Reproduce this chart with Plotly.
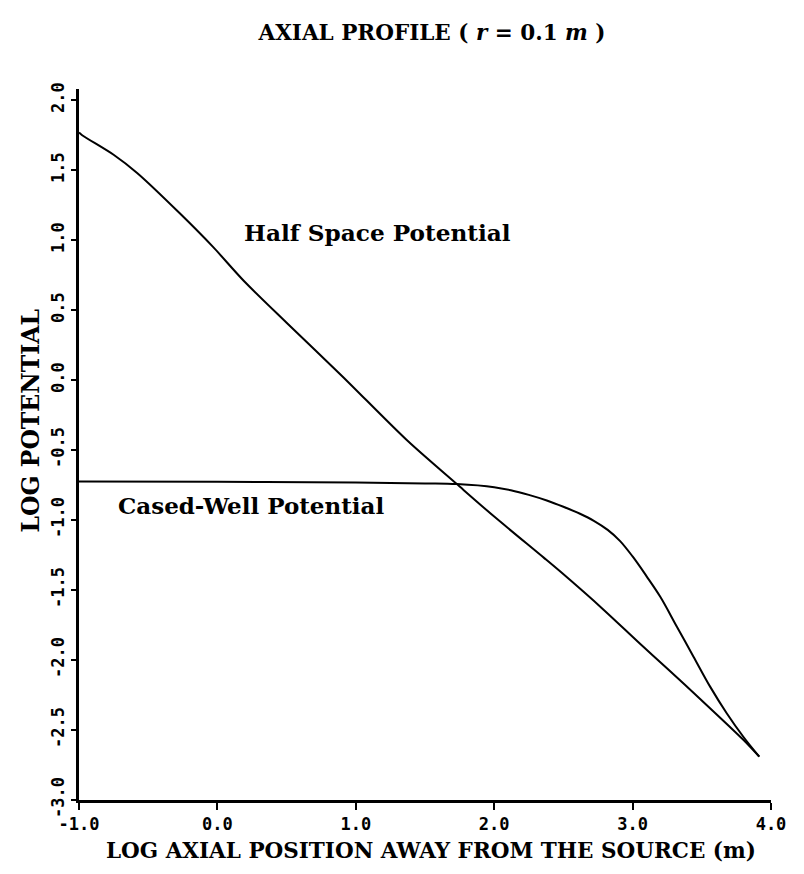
import plotly.graph_objects as go

# Half space potential curve (log axial position vs log potential)
half_x = [-1.0, -0.977, -0.75, -0.58, -0.27, -0.03, 0.19, 0.5, 0.9, 1.37, 1.73, 2.0, 2.36, 2.48, 2.79, 3.05, 3.25, 3.49, 3.80, 3.915]
half_y = [1.77, 1.75, 1.61, 1.48, 1.19, 0.95, 0.71, 0.41, 0.03, -0.43, -0.743, -0.975, -1.27, -1.37, -1.64, -1.88, -2.06, -2.28, -2.57, -2.69]

# Cased-well potential curve
cased_x = [-1.0, 0.0, 1.0, 1.5, 1.73, 2.0, 2.12, 2.25, 2.38, 2.5, 2.62, 2.72, 2.82, 2.91, 3.0, 3.10, 3.20, 3.32, 3.44, 3.56, 3.68, 3.80, 3.915]
cased_y = [-0.725, -0.727, -0.732, -0.738, -0.743, -0.765, -0.787, -0.82, -0.86, -0.905, -0.955, -1.005, -1.07, -1.15, -1.26, -1.40, -1.548, -1.762, -1.976, -2.19, -2.38, -2.548, -2.69]

x_ticks = [-1.0, 0.0, 1.0, 2.0, 3.0, 4.0]
y_ticks = [-3.0, -2.5, -2.0, -1.5, -1.0, -0.5, 0.0, 0.5, 1.0, 1.5, 2.0]

serif = "DejaVu Serif"
tickfont = dict(family="DejaVu Sans Mono", size=17, color="black", weight="bold")

# page body has an 8px margin; figure coordinates = page coordinates - 8
OFF = 8
W, H = 796, 866
L, R, T, B = 78.5 - OFF, 796 - (771 - OFF), 89 - OFF, 866 - (800 - OFF)
pw, ph = W - L - R, H - T - B

fig = go.Figure()
fig.add_trace(go.Scatter(x=half_x, y=half_y, mode="lines",
                         line=dict(color="black", width=2, shape="spline", smoothing=0.8),
                         showlegend=False, hoverinfo="skip"))
fig.add_trace(go.Scatter(x=cased_x, y=cased_y, mode="lines",
                         line=dict(color="black", width=2, shape="spline", smoothing=1.0),
                         showlegend=False, hoverinfo="skip"))

fig.add_annotation(x=1.16, y=1.057, text="Half Space Potential", showarrow=False,
                   font=dict(family=serif, size=23.2, color="black", weight="bold"))
fig.add_annotation(x=0.245, y=-0.893, text="Cased-Well Potential", showarrow=False,
                   font=dict(family=serif, size=23, color="black", weight="bold"))

# axis titles as paper annotations
fig.add_annotation(xref="paper", yref="paper", x=(431 - OFF - L) / pw, y=(H - B - (850 - OFF)) / ph,
                   text="LOG AXIAL POSITION AWAY FROM THE SOURCE (m)", showarrow=False,
                   xanchor="center", yanchor="middle",
                   font=dict(family=serif, size=21.5, color="black", weight="bold"))
fig.add_annotation(xref="paper", yref="paper", x=(30 - OFF - L) / pw, y=(H - B - (421 - OFF)) / ph,
                   text="LOG POTENTIAL", showarrow=False, textangle=-90,
                   xanchor="center", yanchor="middle",
                   font=dict(family=serif, size=23.5, color="black", weight="bold"))

fig.update_layout(
    width=W, height=H,
    margin=dict(l=L, r=R, t=T, b=B, autoexpand=False),
    paper_bgcolor="white", plot_bgcolor="white",
    title=dict(text="AXIAL PROFILE ( <i>r</i> = 0.1 <i>m</i> )", x=(432 - OFF) / W, xanchor="center",
               y=1 - (32 - OFF) / H, yanchor="middle", yref="container",
               font=dict(family=serif, size=21.5, color="black", weight="bold")),
    xaxis=dict(range=[-1, 4], tickvals=x_ticks, ticktext=[f"{v:.1f}" for v in x_ticks],
               showgrid=False, zeroline=False, showline=True, linecolor="black", linewidth=2.5,
               ticks="outside", ticklen=7, tickwidth=2, tickcolor="black",
               tickfont=tickfont, automargin=False),
    yaxis=dict(range=[-3, 2.08], tickvals=y_ticks, ticktext=[f"{v:.1f}" for v in y_ticks],
               showgrid=False, zeroline=False, showline=True, linecolor="black", linewidth=2.5,
               ticks="outside", ticklen=5, tickwidth=2, tickcolor="black",
               tickangle=-90, tickfont=tickfont, automargin=False),
)

fig.write_html("out.html")
